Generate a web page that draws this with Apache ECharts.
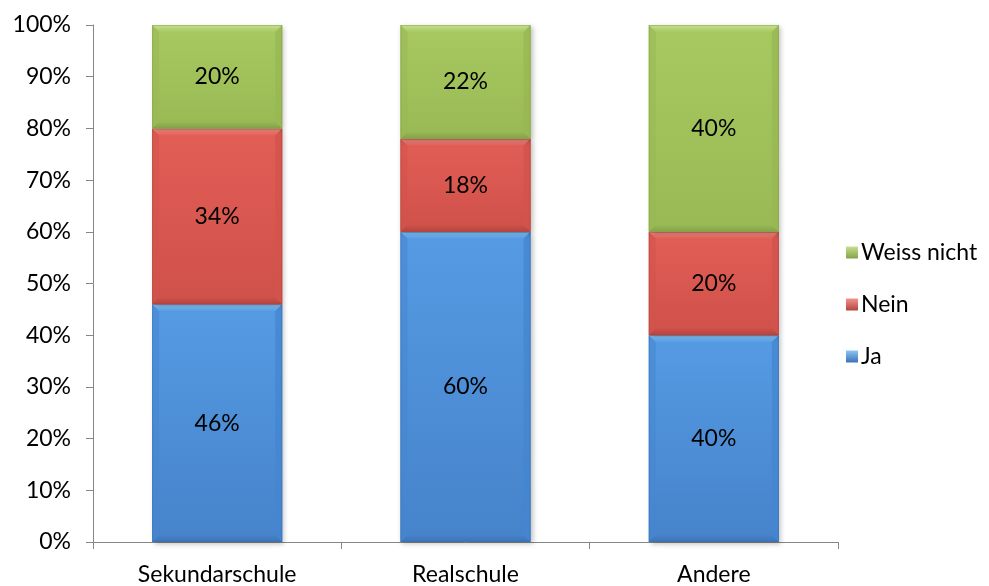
<!DOCTYPE html>
<html>
<head>
<meta charset="utf-8">
<script src="https://cdn.jsdelivr.net/npm/echarts@6/dist/echarts.min.js"></script>
<style>
  html, body { margin: 0; padding: 0; background: #fff; }
  #chart { width: 989px; height: 586px; }
</style>
</head>
<body>
<div id="chart"></div>
<script>
// Survey answers per school type, in percent (stacked bottom to top: Ja, Nein, Weiss nicht)
const categories = ['Sekundarschule', 'Realschule', 'Andere'];
const ja = [46, 60, 40];
const nein = [34, 18, 20];
const weissNicht = [20, 22, 40];
const seriesNames = ['Ja', 'Nein', 'Weiss nicht'];

// Bevelled fill shades for each answer
const shades = {
  'Ja':          { top: '#559BE4', bottom: '#4683CA', light: '#8AC6F6', side: '#4586CF', dark: '#3C73B4', edge: '#3A6FAE' },
  'Nein':        { top: '#E25E56', bottom: '#CF514A', light: '#F4928A', side: '#D2544C', dark: '#B4453F', edge: '#B0443E' },
  'Weiss nicht': { top: '#A8C960', bottom: '#99B955', light: '#C6E08F', side: '#98B854', dark: '#84A248', edge: '#84A047' }
};

const FONT = 'Lato, "Open Sans", sans-serif';
const FS = 23;

// Build stacked ranges [category, start, end, value] for each series
const valueSets = [ja, nein, weissNicht];
const bases = categories.map(() => 0);
const stacked = valueSets.map(vals => vals.map((v, i) => {
  const start = bases[i];
  bases[i] += v;
  return [i, start, start + v, v];
}));

function makeRenderer(name) {
  const c = shades[name];
  return function (params, api) {
    const cat = api.value(0);
    const start = api.value(1);
    const end = api.value(2);
    const val = api.value(3);
    const p0 = api.coord([cat, start]);
    const p1 = api.coord([cat, end]);
    const band = api.size([1, 0])[0];
    const w = band * 0.524;
    const x = p0[0] - w / 2;
    const yTop = p1[1];
    const yBot = p0[1];
    const h = yBot - yTop;
    const b = Math.min(7, h / 3);
    return {
      type: 'group',
      children: [
        {
          type: 'rect',
          shape: { x: x, y: yTop, width: w, height: h },
          style: {
            fill: new echarts.graphic.LinearGradient(0, 0, 0, 1, [
              { offset: 0, color: c.top },
              { offset: 1, color: c.bottom }
            ]),
            shadowBlur: 5, shadowOffsetX: 2, shadowOffsetY: 2,
            shadowColor: 'rgba(0,0,0,0.25)'
          }
        },
        {
          type: 'polygon',
          shape: { points: [[x, yTop], [x + w, yTop], [x + w - b, yTop + b], [x + b, yTop + b]] },
          style: {
            fill: new echarts.graphic.LinearGradient(0, 0, 0, 1, [
              { offset: 0, color: c.light },
              { offset: 1, color: c.top }
            ])
          }
        },
        {
          type: 'polygon',
          shape: { points: [[x, yBot], [x + w, yBot], [x + w - b, yBot - b], [x + b, yBot - b]] },
          style: {
            fill: new echarts.graphic.LinearGradient(0, 0, 0, 1, [
              { offset: 0, color: c.bottom },
              { offset: 1, color: c.dark }
            ])
          }
        },
        { type: 'polygon', shape: { points: [[x, yTop], [x + b, yTop + b], [x + b, yBot - b], [x, yBot]] }, style: { fill: c.side, opacity: 0.55 } },
        { type: 'polygon', shape: { points: [[x + w, yTop], [x + w - b, yTop + b], [x + w - b, yBot - b], [x + w, yBot]] }, style: { fill: c.side, opacity: 0.8 } },
        { type: 'rect', shape: { x: x + 0.5, y: yTop + 0.5, width: w - 1, height: h - 1 }, style: { fill: null, stroke: c.edge, lineWidth: 1, opacity: 0.5 } },
        {
          type: 'text',
          style: {
            text: val + '%', x: p0[0], y: (yTop + yBot) / 2,
            align: 'center', verticalAlign: 'middle',
            font: FS + 'px ' + FONT, fill: '#000'
          }
        }
      ]
    };
  };
}

const chart = echarts.init(document.getElementById('chart'), null, { renderer: 'canvas' });

chart.setOption({
  animation: false,
  backgroundColor: '#fff',
  textStyle: { fontFamily: FONT },
  grid: { left: 93, right: 151, top: 25, bottom: 44, containLabel: false },
  legend: {
    orient: 'vertical',
    left: 841,
    top: 236,
    itemWidth: 12,
    itemHeight: 12,
    itemGap: 29,
    icon: 'rect',
    textStyle: { fontSize: FS, color: '#000', fontFamily: FONT, padding: [0, 0, 0, -2] },
    data: seriesNames.slice().reverse().map(n => ({
      name: n,
      itemStyle: {
        color: new echarts.graphic.LinearGradient(0, 0, 0, 1, [
          { offset: 0, color: shades[n].light },
          { offset: 1, color: shades[n].dark }
        ])
      }
    }))
  },
  xAxis: {
    type: 'category',
    data: categories,
    boundaryGap: true,
    axisLine: { show: true, lineStyle: { color: '#868686', width: 1 } },
    axisTick: { show: true, length: 7, interval: 0, lineStyle: { color: '#868686' } },
    axisLabel: { fontSize: FS, color: '#000', margin: 21, fontFamily: FONT, interval: 0 },
    splitLine: { show: false }
  },
  yAxis: {
    type: 'value',
    min: 0,
    max: 100,
    interval: 10,
    axisLine: { show: true, lineStyle: { color: '#868686', width: 1 } },
    axisTick: { show: true, length: 7, lineStyle: { color: '#868686' } },
    axisLabel: { fontSize: FS, color: '#000', margin: 22, fontFamily: FONT, formatter: '{value}%' },
    splitLine: { show: false }
  },
  series: seriesNames.map((name, k) => ({
    name: name,
    type: 'custom',
    renderItem: makeRenderer(name),
    itemStyle: { color: shades[name].top },
    encode: { x: 0, y: [1, 2] },
    data: stacked[k]
  }))
});
</script>
</body>
</html>
